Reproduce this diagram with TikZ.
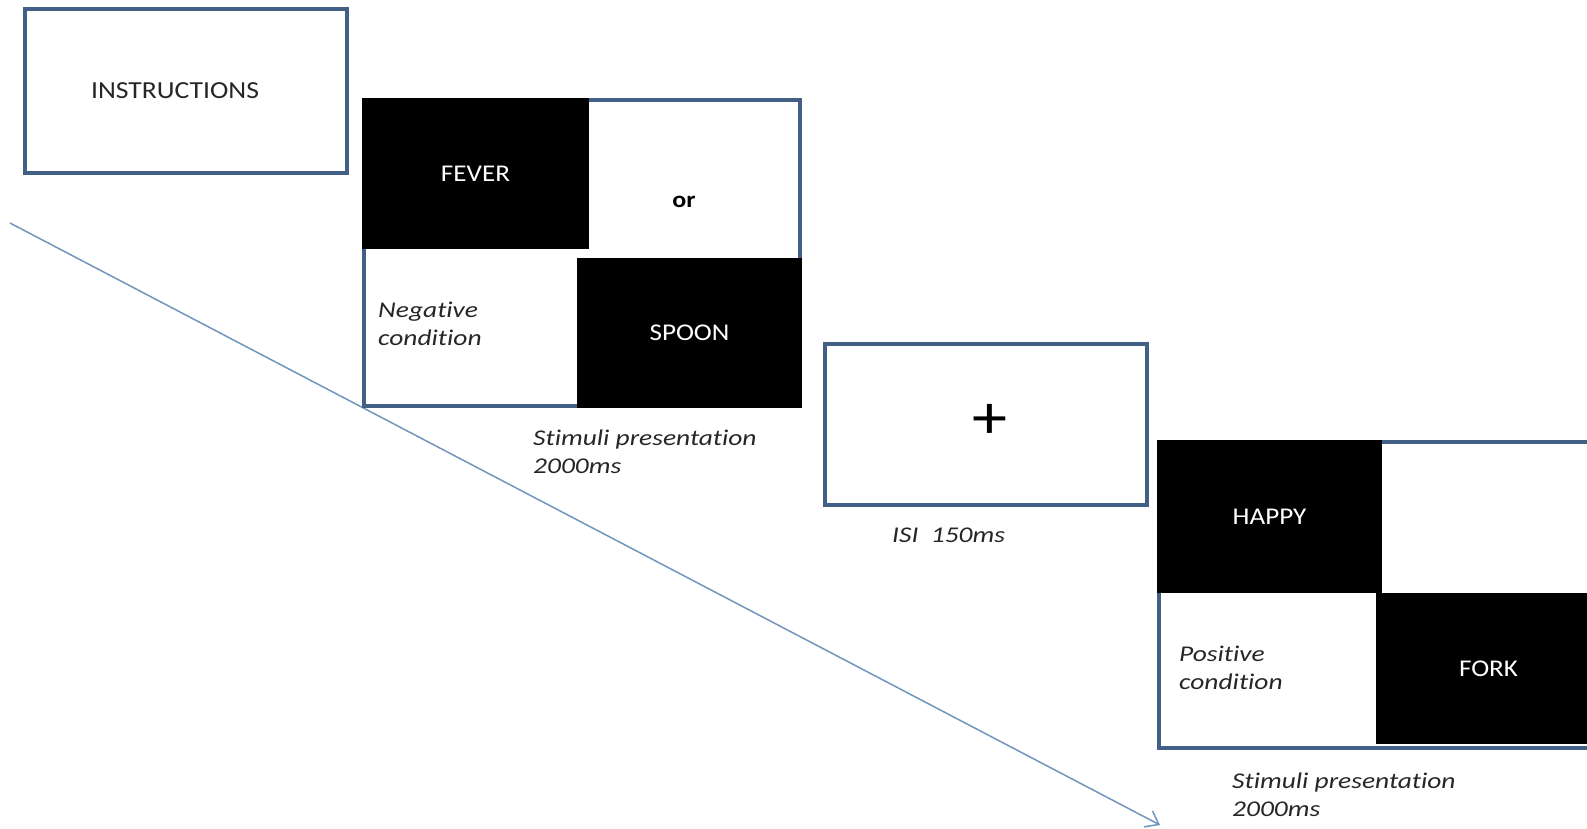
\documentclass[tikz,border=0pt]{standalone}
\usepackage{fontspec}
\setmainfont{Carlito}[FakeStretch=1.13,Ligatures=NoCommon]
\newfontfamily\notefont{Carlito}[FakeStretch=1.22,Ligatures=NoCommon]
\usetikzlibrary{positioning,arrows.meta}

\definecolor{framecol}{RGB}{66,96,134}
\definecolor{timecol}{RGB}{112,150,190}

\tikzset{
  frame/.style={draw=framecol,line width=4pt,fill=white,anchor=north west,
    inner sep=0pt,outer sep=0pt},
  word/.style={fill=black,text=white,anchor=north west,inner sep=0pt,
    outer sep=0pt,font=\fontsize{24}{28}\selectfont},
  note/.style={font=\notefont\fontsize{22.5}{28}\selectfont\itshape,align=left,
    anchor=west,inner sep=0pt,text=black!85},
}

\begin{document}
\begin{tikzpicture}[x=1pt,y=-1pt]
 \clip (0,0) rectangle (1587,828);
 % time line
 \coordinate (tstart) at (10,223);
 \coordinate (tend) at (1160,825);
 \draw[timecol,line width=1.5pt,-{Straight Barb[length=12pt,width=18pt]}] (tstart)--(tend);

 % instructions
 \node[frame,minimum width=322pt,minimum height=164pt] (instr) at (25,9) {};
 \node[font=\fontsize{24.5}{28}\selectfont,text=black!85] (instrtxt) at ([xshift=-11pt]instr.center) {INSTRUCTIONS};

 % first stimuli screen
 \node[frame,minimum width=436pt,minimum height=306pt] (negscr) at (364,100) {};
 \node[word,minimum width=227pt,minimum height=151pt] (fever) at (362,98) {FEVER};
 \node[word,minimum width=225pt,minimum height=150pt] (spoon) at (577,258) {SPOON};
 \node[font=\fontsize{23}{27}\selectfont\bfseries] (or) at (684,202) {or};
 \node[note] (negcond) at (378,324) {Negative\\condition};
 \node[note] (negtime) at (533,452) {Stimuli presentation\\2000ms};

 % fixation
 \node[frame,minimum width=322pt,minimum height=161pt] (fix) at (825,344) {};
 \node[font=\fontsize{62}{62}\selectfont] (cross) at (990,421) {+};
 \node[note] (isi) at (892,535) {ISI\ \ 150ms};

 % second stimuli screen
 \node[frame,minimum width=436pt,minimum height=306pt] (posscr) at (1159,442) {};
 \node[word,minimum width=225pt,minimum height=153pt] (happy) at (1157,440) {HAPPY};
 \node[word,minimum width=225pt,minimum height=151pt] (fork) at (1376,593) {FORK};
 \node[note] (poscond) at (1179,668) {Positive\\condition};
 \node[note] (postime) at (1232,795) {Stimuli presentation\\2000ms};
\end{tikzpicture}
\end{document}
